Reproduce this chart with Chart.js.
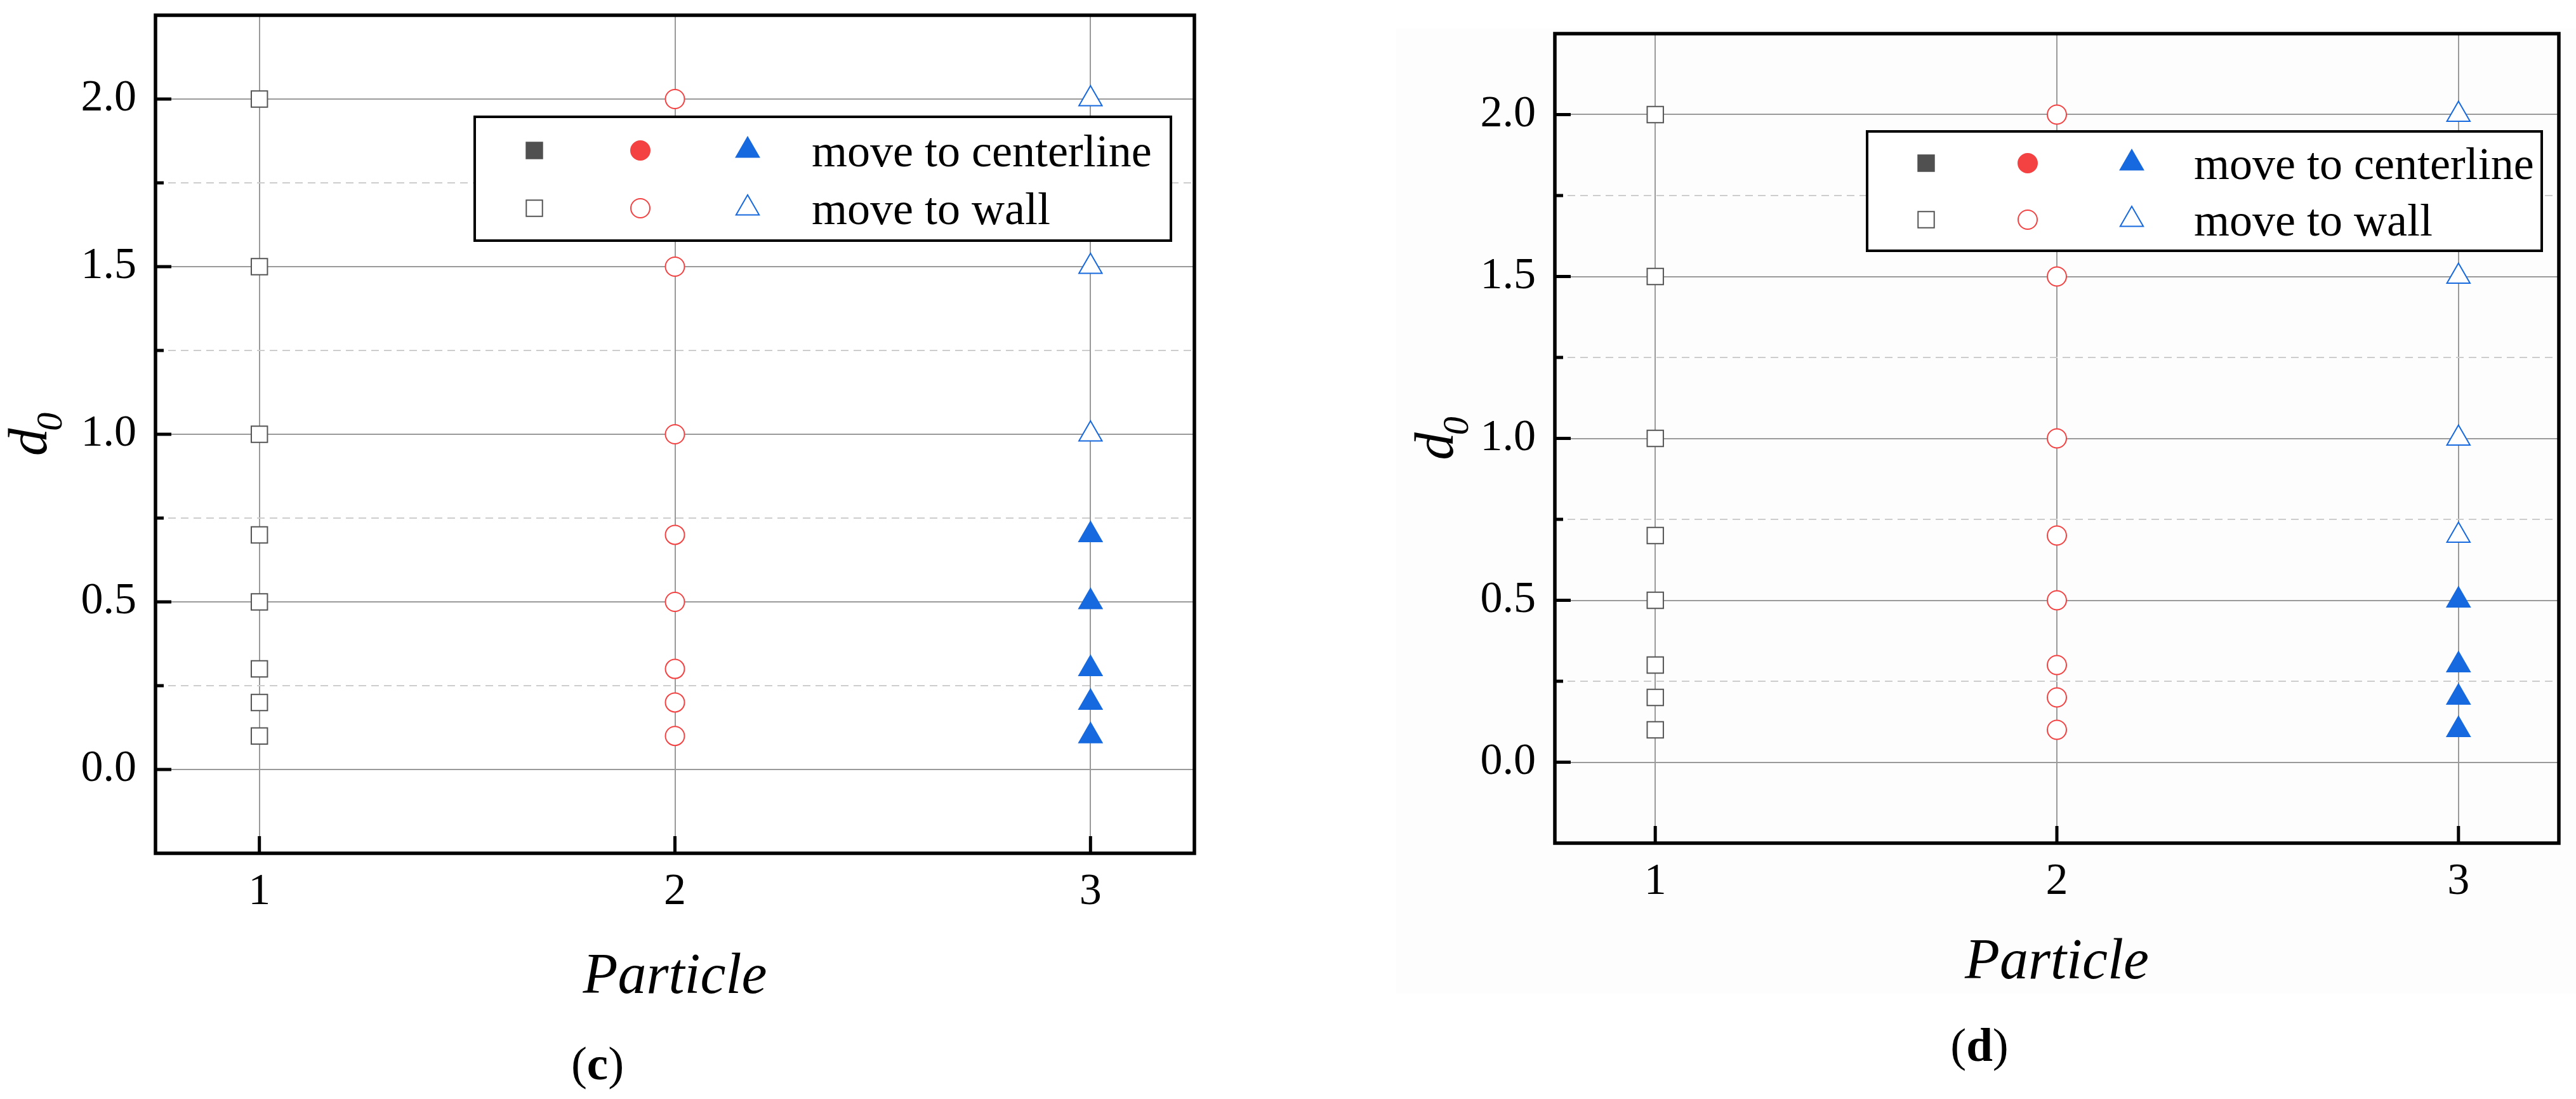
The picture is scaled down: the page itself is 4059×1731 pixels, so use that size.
<!DOCTYPE html>
<html>
<head>
<meta charset="utf-8">
<script src="https://cdn.jsdelivr.net/npm/chart.js@4.4.0/dist/chart.umd.min.js"></script>
<style>
  html, body { margin: 0; padding: 0; background: #fff; }
  body { width: 4059px; height: 1731px; position: relative; overflow: hidden; }
  canvas { position: absolute; top: 0; }
  #bgD { position: absolute; left: 2200px; top: 45px; width: 1859px; height: 1520px; background: #fdfdfd; }
</style>
</head>
<body>
<div id="bgD"></div>
<canvas id="chartC" width="2100" height="1731" style="left:0"></canvas>
<canvas id="chartD" width="1959" height="1731" style="left:2100px"></canvas>
<script>
// axis ticks
var xTicks = [1, 2, 3];
var yMajor = [0, 0.5, 1.0, 1.5, 2.0];
var yMinor = [0.25, 0.75, 1.25, 1.75];

// (c) initial position d0 per particle
var p1WallC = [0.1, 0.2, 0.3, 0.5, 0.7, 1.0, 1.5, 2.0];
var p2WallC = [0.1, 0.2, 0.3, 0.5, 0.7, 1.0, 1.5, 2.0];
var p3WallC = [1.0, 1.5, 2.0];
var p3CenterC = [0.1, 0.2, 0.3, 0.5, 0.7];

// (d)
var p1WallD = [0.1, 0.2, 0.3, 0.5, 0.7, 1.0, 1.5, 2.0];
var p2WallD = [0.1, 0.2, 0.3, 0.5, 0.7, 1.0, 1.5, 2.0];
var p3WallD = [0.7, 1.0, 1.5, 2.0];
var p3CenterD = [0.1, 0.2, 0.3, 0.5];

var legendLabels = ['move to centerline', 'move to wall'];

var GREY = '#555555', GREY_FILL = '#505050', RED = '#f44242', BLUE = '#1669de';
var FONT = '"Liberation Serif", "Times New Roman", serif';

Chart.defaults.font.family = FONT;
Chart.defaults.color = '#000';

function pts(x, ys) {
  return ys.map(function (v) { return { x: x, y: v }; });
}

// marker styles: [shape, radius, stroke, fill]
var MARK = {
  sq: ['rect', 18, GREY, '#fff'],
  sqF: ['rect', 18, GREY_FILL, GREY_FILL],
  ci: ['circle', 15, RED, '#fff'],
  ciF: ['circle', 15, RED, RED],
  tr: ['triangle', 21, BLUE, '#fff'],
  trF: ['triangle', 21, BLUE, BLUE]
};

function ds(data, m) {
  var s = MARK[m];
  return {
    data: data,
    showLine: false,
    pointStyle: s[0],
    pointRadius: s[1],
    pointHoverRadius: s[1],
    borderColor: s[2],
    backgroundColor: s[3],
    pointBorderWidth: 2,
    pointHoverBorderWidth: 2
  };
}

function line(ctx, x1, y1, x2, y2) {
  ctx.beginPath(); ctx.moveTo(x1, y1); ctx.lineTo(x2, y2); ctx.stroke();
}

function marker(ctx, m, x, y) {
  var s = MARK[m];
  ctx.save();
  ctx.strokeStyle = s[2];
  ctx.fillStyle = s[3];
  ctx.lineWidth = 2;
  Chart.helpers.drawPoint(ctx, { pointStyle: s[0], radius: s[1], rotation: 0, borderWidth: 2 }, x, y);
  ctx.restore();
}

function drawD0(ctx, cx, cy) {
  ctx.save();
  ctx.translate(cx, cy);
  ctx.rotate(-Math.PI / 2);
  ctx.fillStyle = '#000';
  ctx.textAlign = 'left';
  ctx.textBaseline = 'alphabetic';
  ctx.font = 'italic 87px ' + FONT;
  var wd = ctx.measureText('d').width;
  ctx.font = 'italic 58px ' + FONT;
  var ws = ctx.measureText('0').width;
  var x0 = -(wd + ws - 4) / 2;
  ctx.font = 'italic 87px ' + FONT;
  ctx.fillText('d', x0, 0);
  ctx.font = 'italic 58px ' + FONT;
  ctx.fillText('0', x0 + wd - 4, 24);
  ctx.restore();
}

function drawPanelLabel(ctx, letter, cx, base) {
  ctx.save();
  ctx.fillStyle = '#000';
  ctx.textBaseline = 'alphabetic';
  ctx.textAlign = 'left';
  var fr = '75px ' + FONT, fb = 'bold 75px ' + FONT;
  ctx.font = fr; var wp = ctx.measureText('(').width;
  ctx.font = fb; var wl = ctx.measureText(letter).width;
  var x = cx - (2 * wp + wl) / 2;
  ctx.font = fr; ctx.fillText('(', x, base);
  ctx.font = fb; ctx.fillText(letter, x + wp, base);
  ctx.font = fr; ctx.fillText(')', x + wp + wl, base);
  ctx.restore();
}

// frame, inward ticks, titles and the boxed legend
function decorPlugin(cfg) {
  return {
    id: 'decor',
    afterDatasetsDraw: function (chart) {
      var ctx = chart.ctx, b = cfg.box;
      ctx.save();
      ctx.fillStyle = '#fff';
      ctx.fillRect(b[0], b[1], b[2] - b[0], b[3] - b[1]);
      ctx.strokeStyle = '#000';
      ctx.lineWidth = 4;
      ctx.strokeRect(b[0], b[1], b[2] - b[0], b[3] - b[1]);
      var rows = [['sqF', 'ciF', 'trF'], ['sq', 'ci', 'tr']];
      ctx.font = '72px ' + FONT;
      ctx.textBaseline = 'alphabetic';
      for (var r = 0; r < 2; r++) {
        for (var k = 0; k < 3; k++) marker(ctx, rows[r][k], cfg.markX[k], cfg.rowY[r]);
        ctx.fillStyle = '#000';
        ctx.fillText(legendLabels[r], cfg.textX, cfg.rowY[r] + 25);
      }
      ctx.restore();
    },
    afterDraw: function (chart) {
      var ctx = chart.ctx, a = chart.chartArea;
      var xs = chart.scales.x, ys = chart.scales.y;
      ctx.save();
      ctx.strokeStyle = '#000';
      ctx.lineWidth = 5;
      yMajor.forEach(function (v) { var p = ys.getPixelForValue(v); line(ctx, a.left, p, a.left + 25, p); });
      yMinor.forEach(function (v) { var p = ys.getPixelForValue(v); line(ctx, a.left, p, a.left + 13, p); });
      xTicks.forEach(function (v) { var p = xs.getPixelForValue(v); line(ctx, p, a.bottom, p, a.bottom - 27); });
      ctx.lineWidth = 5.5;
      ctx.strokeRect(a.left, a.top, a.right - a.left, a.bottom - a.top);

      ctx.fillStyle = '#000';
      ctx.font = 'italic 90px ' + FONT;
      ctx.textAlign = 'center';
      ctx.textBaseline = 'alphabetic';
      ctx.fillText('Particle', (a.left + a.right) / 2, cfg.titleY);
      ctx.restore();

      drawD0(ctx, a.left - cfg.d0Gap, (a.top + a.bottom) / 2);
      drawPanelLabel(ctx, cfg.letter, (a.left + a.right) / 2 - 122, cfg.letterY);
    }
  };
}

function makeChart(id, datasets, cfg) {
  return new Chart(document.getElementById(id), {
    type: 'scatter',
    data: { datasets: datasets },
    options: {
      responsive: false,
      animation: false,
      devicePixelRatio: 1,
      layout: { padding: { left: 0, top: cfg.top, right: cfg.right, bottom: 0 } },
      plugins: { legend: { display: false }, tooltip: { enabled: false } },
      scales: {
        x: {
          type: 'linear', min: 0.75, max: 3.25,
          afterBuildTicks: function (s) { s.ticks = xTicks.map(function (v) { return { value: v }; }); },
          afterFit: function (s) { s.height = cfg.xH; s.paddingLeft = 0; s.paddingRight = 0; },
          ticks: { font: { size: 70 }, padding: 20, callback: function (v) { return String(v); } },
          grid: { color: '#9a9a9a', lineWidth: 2, drawTicks: false },
          border: { display: false }
        },
        y: {
          type: 'linear', min: -0.25, max: 2.25,
          afterBuildTicks: function (s) {
            s.ticks = yMajor.concat(yMinor).map(function (v) { return { value: v }; });
          },
          afterFit: function (s) { s.width = cfg.yW; s.paddingTop = 0; s.paddingBottom = 0; },
          ticks: {
            font: { size: 70 }, padding: 30,
            callback: function (v) { return yMajor.indexOf(v) >= 0 ? v.toFixed(1) : ''; }
          },
          grid: {
            lineWidth: 2, drawTicks: false,
            color: function (c) { return yMajor.indexOf(c.tick.value) >= 0 ? '#9a9a9a' : '#cdcdcd'; }
          },
          border: {
            display: false,
            dash: function (c) { return yMajor.indexOf(c.tick.value) >= 0 ? [] : [12, 8]; }
          }
        }
      }
    },
    plugins: [decorPlugin(cfg)]
  });
}

makeChart('chartC', [
  ds(pts(xTicks[0], p1WallC), 'sq'),
  ds(pts(xTicks[1], p2WallC), 'ci'),
  ds(pts(xTicks[2], p3WallC), 'tr'),
  ds(pts(xTicks[2], p3CenterC), 'trF')
], {
  top: 24, right: 218, yW: 245, xH: 387,
  box: [748, 184, 1845, 379], rowY: [237, 328], markX: [842, 1009, 1178], textX: 1279,
  titleY: 1564, d0Gap: 172, letter: 'c', letterY: 1700
});

makeChart('chartD', [
  ds(pts(xTicks[0], p1WallD), 'sq'),
  ds(pts(xTicks[1], p2WallD), 'ci'),
  ds(pts(xTicks[2], p3WallD), 'tr'),
  ds(pts(xTicks[2], p3CenterD), 'trF')
], {
  top: 53, right: 27, yW: 350, xH: 403,
  box: [842, 207, 1905, 395], rowY: [257, 346], markX: [935, 1095, 1259], textX: 1357,
  titleY: 1541, d0Gap: 161, letter: 'd', letterY: 1671
});
</script>
</body>
</html>
